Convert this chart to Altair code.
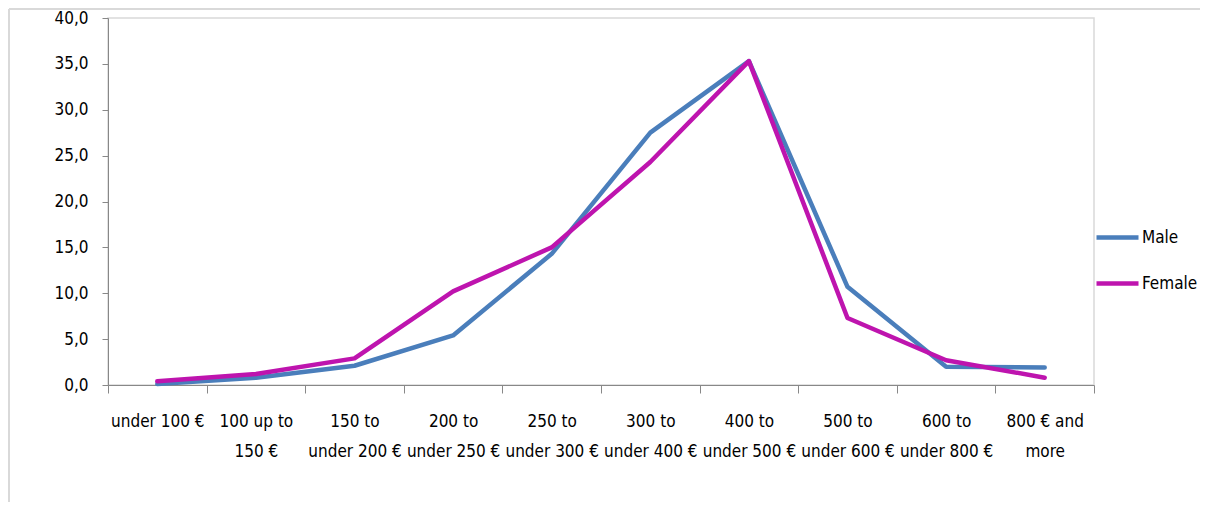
import altair as alt
import pandas as pd

categories = [
    "under 100 €",
    "100  up to\n150 €",
    "150 to\nunder 200 €",
    "200 to\nunder 250 €",
    "250 to\nunder 300 €",
    "300 to\nunder 400 €",
    "400 to\nunder 500 €",
    "500 to\nunder 600 €",
    "600 to\nunder 800 €",
    "800 € and\nmore",
]
male = [0.1, 0.8, 2.1, 5.4, 14.3, 27.5, 35.3, 10.7, 2.0, 1.9]
female = [0.4, 1.2, 2.9, 10.2, 15.0, 24.3, 35.3, 7.3, 2.7, 0.8]
series = ["Male", "Female"]
colors = ["#4A7EBB", "#BE14AE"]

rows = []
for c, m, f in zip(categories, male, female):
    rows.append({"cat": c, "series": "Male", "value": m})
    rows.append({"cat": c, "series": "Female", "value": f})
df = pd.DataFrame(rows)

FONT = "DejaVu Sans Condensed, Lato, sans-serif"

lines = alt.Chart(df).mark_line(strokeWidth=4.5, strokeCap="round", strokeJoin="round").encode(
    x=alt.X("cat:N", sort=categories, title=None,
            scale=alt.Scale(paddingInner=0, paddingOuter=0),
            axis=alt.Axis(tickBand="extent", labelAngle=0, labelExpr="split(datum.label, '\\n')",
                          labelLineHeight=30, labelPadding=20, tickSize=8,
                          domainColor="#888888", tickColor="#888888",
                          labelFont=FONT, labelFontSize=17, labelColor="#000000")),
    y=alt.Y("value:Q", title=None,
            scale=alt.Scale(domain=[0, 40]),
            axis=alt.Axis(values=[0, 5, 10, 15, 20, 25, 30, 35, 40], grid=False,
                          labelExpr="replace(format(datum.value, '.1f'), '.', ',')",
                          tickSize=6, labelPadding=14, domainColor="#888888", tickColor="#888888",
                          labelFont=FONT, labelFontSize=17, labelColor="#000000")),
    color=alt.Color("series:N", sort=series,
                    scale=alt.Scale(domain=series, range=colors),
                    legend=alt.Legend(title=None, orient="none", legendX=986, legendY=196,
                                      symbolType="stroke", symbolSize=1764, symbolStrokeWidth=4.5,
                                      labelOffset=1, rowPadding=13, padding=0,
                                      labelFont=FONT, labelFontSize=17, labelColor="#000000")),
)

frame = pd.DataFrame({"a": [0]})
left_edge = alt.Chart(frame).mark_rule(color="#D9D9D9", strokeWidth=2).encode(
    x=alt.value(-99), y=alt.value(-9), y2=alt.value(500)
)
top_edge = alt.Chart(frame).mark_rule(color="#D9D9D9", strokeWidth=2).encode(
    x=alt.value(-99), x2=alt.value(1100), y=alt.value(-9)
)

chart = alt.layer(left_edge, top_edge, lines).properties(
    width=986, height=367,
    autosize=alt.AutoSizeParams(type="none"),
    padding={"left": 100, "top": 10, "right": 106, "bottom": 117},
).configure_view(stroke="#D9D9D9", strokeWidth=1.5)

chart.save("out.html", embed_options={"renderer": "svg", "actions": False})
